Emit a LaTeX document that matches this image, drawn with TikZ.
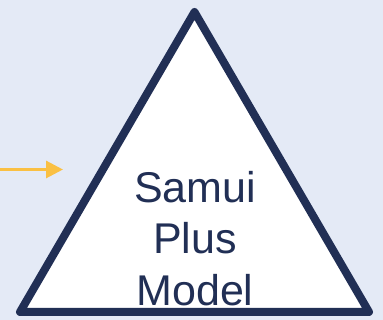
\documentclass[tikz,border=0pt]{standalone}
\usepackage{fontspec}
\setmainfont{Liberation Sans}
\usetikzlibrary{arrows.meta}
\definecolor{bgblue}{RGB}{228,234,246}
\definecolor{navy}{RGB}{33,47,85}
\definecolor{amber}{RGB}{250,192,67}

\begin{document}
\begin{tikzpicture}[
		x=1pt, y=-1pt,
		pyramid/.style={draw=navy,fill=white,line width=8pt,line join=round},
		feed/.style={draw=amber,line width=3pt,-{Triangle[length=17pt 0 0,width=17pt 0 0]}},
		label/.style={text=navy,align=center,font=\fontsize{43}{51}\selectfont,inner sep=0pt}
		]
		\fill[bgblue] (0,0) rectangle (383,320);
		\useasboundingbox (0,0) rectangle (383,320);
		\coordinate (top) at (194.5,12);
		\coordinate (left) at (20,312);
		\coordinate (right) at (369,312);
		\draw[pyramid] (top) -- (left) -- (right) -- cycle;
		\node[label,anchor=base] (samui) at (195,203) {Samui};
		\node[label,anchor=base] (plus) at (195,253.5) {Plus};
		\node[label,anchor=base] (model) at (195,305.5) {Model};
		\coordinate (from) at (-2,169.5);
		\coordinate (to) at (63,169.5);
		\draw[feed] (from) -- (to);
		\end{tikzpicture}
\end{document}
